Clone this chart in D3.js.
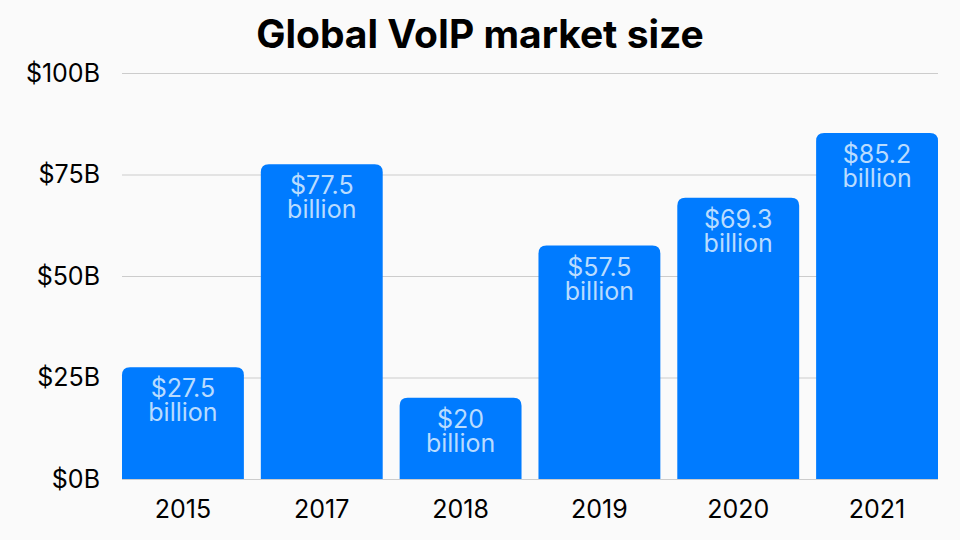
<!DOCTYPE html>
<html><head><meta charset="utf-8">
<script src="https://cdn.jsdelivr.net/npm/d3@7"></script>
<style>body{margin:0;background:#fafafa;font-family:Inter,"Noto Sans",sans-serif;}</style>
</head><body>
<svg id="c" width="960" height="540"></svg>
<script>
const years = ["2015","2017","2018","2019","2020","2021"];
const values = [27.5, 77.5, 20, 57.5, 69.3, 85.2];
const labels = ["$27.5","$77.5","$20","$57.5","$69.3","$85.2"];
const yTicks = [0,25,50,75,100];

const svg = d3.select("#c");
svg.append("rect").attr("width",960).attr("height",540).attr("fill","#fafafa");
const m = {l:122, r:22, t:73, b:61};
const W = 960, H = 540;
const x = d3.scaleBand().domain(years).range([m.l, W-m.r]).paddingInner(0.122).paddingOuter(0);
const y = d3.scaleLinear().domain([0,100]).range([H-m.b, m.t]);

svg.append("text").attr("x",480).attr("y",48).attr("text-anchor","middle")
  .attr("font-size",39).attr("font-weight",700).attr("fill","#000").text("Global VoIP market size");

const ya = svg.append("g").attr("transform",`translate(${m.l},0)`)
  .call(d3.axisLeft(y).tickValues(yTicks).tickSize(-(W-m.l-m.r)).tickPadding(22).tickFormat(d=>`$${d}B`));
ya.select(".domain").remove();
ya.selectAll(".tick line").attr("stroke","#cccccc");
ya.selectAll(".tick text").attr("font-size",25).attr("fill","#000").attr("font-family","Inter,sans-serif");

const r = 8;
svg.append("g").selectAll("path").data(values).join("path")
  .attr("fill","#007bff")
  .attr("d",(d,i)=>{
    const x0 = x(years[i]), w = x.bandwidth(), y0 = y(d), y1 = y(0);
    return `M${x0},${y1}V${y0+r}Q${x0},${y0} ${x0+r},${y0}H${x0+w-r}Q${x0+w},${y0} ${x0+w},${y0+r}V${y1}Z`;
  });

const lg = svg.append("g").attr("font-size",25).attr("fill","#b9dcff").attr("text-anchor","middle");
values.forEach((d,i)=>{
  const cx = x(years[i]) + x.bandwidth()/2;
  lg.append("text").attr("x",cx).attr("y",y(d)+30).text(labels[i]);
  lg.append("text").attr("x",cx).attr("y",y(d)+54).text("billion");
});

const xa = svg.append("g").attr("transform",`translate(0,${H-m.b})`)
  .call(d3.axisBottom(x).tickSize(0).tickPadding(21));
xa.select(".domain").remove();
xa.selectAll(".tick text").attr("font-size",25).attr("fill","#000").attr("font-family","Inter,sans-serif");
</script>
</body></html>
